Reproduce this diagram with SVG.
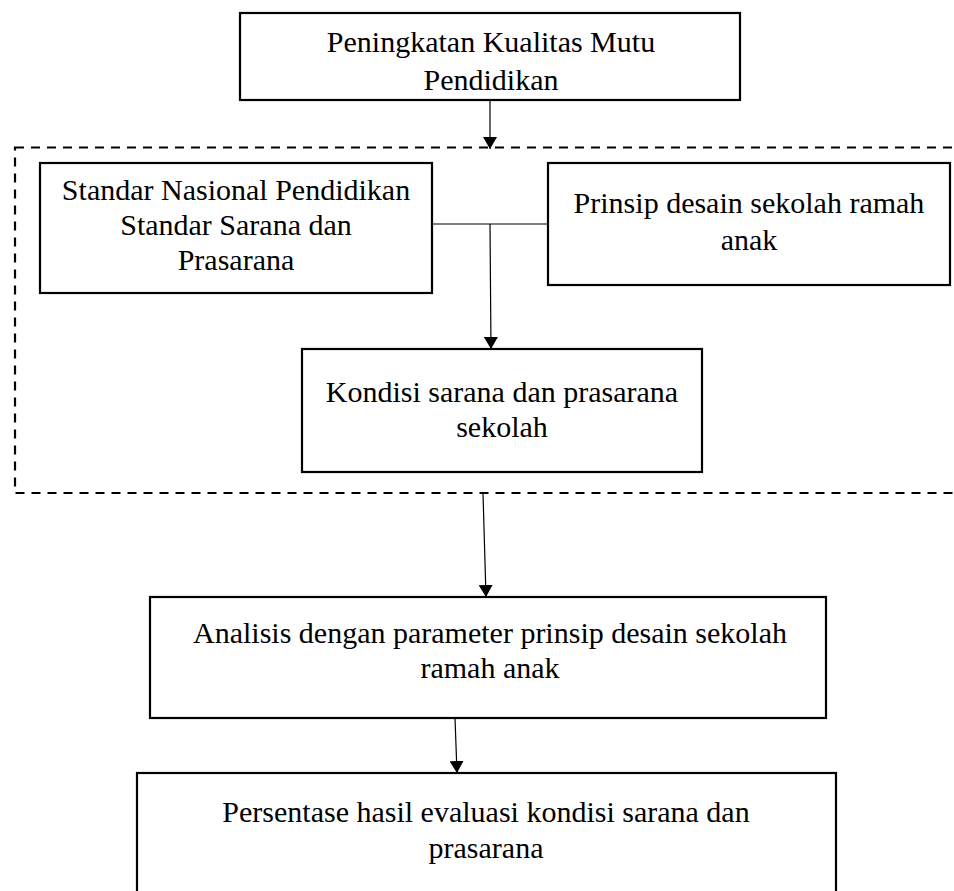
<svg xmlns="http://www.w3.org/2000/svg" width="954" height="891" viewBox="0 0 954 891">
<style>
.box{fill:#fff;stroke:#000;stroke-width:2.2}
.t{font-family:"Liberation Serif","Times New Roman",serif;font-size:30px;fill:#000;text-anchor:middle}
.c{fill:none;stroke:#000;stroke-width:1.2}
.dash{fill:none;stroke:#000;stroke-width:2.2;stroke-dasharray:9 7}
</style>
<defs>
<marker id="ah" markerWidth="12" markerHeight="14" refX="12" refY="7" orient="auto" markerUnits="userSpaceOnUse">
<path d="M0,0 L12,7 L0,14 Z" fill="#000"/>
</marker>
</defs>
<rect width="954" height="891" fill="#fff"/>
<g id="group-dashed">
<rect class="dash" x="15" y="147.5" width="960" height="345.5"/>
</g>
<g id="n-top">
<rect class="box" x="240" y="13" width="500" height="87"/>
<text class="t" x="491" y="52">Peningkatan Kualitas Mutu</text>
<text class="t" x="491" y="90">Pendidikan</text>
</g>
<g id="n-standar">
<rect class="box" x="40" y="163" width="392" height="130"/>
<text class="t" x="236" y="200">Standar Nasional Pendidikan</text>
<text class="t" x="236" y="235">Standar Sarana dan</text>
<text class="t" x="236" y="270">Prasarana</text>
</g>
<g id="n-prinsip">
<rect class="box" x="548" y="163" width="402" height="122"/>
<text class="t" x="749" y="213">Prinsip desain sekolah ramah</text>
<text class="t" x="749" y="250">anak</text>
</g>
<g id="n-kondisi">
<rect class="box" x="302" y="349" width="400" height="123"/>
<text class="t" x="502" y="402">Kondisi sarana dan prasarana</text>
<text class="t" x="502" y="437">sekolah</text>
</g>
<g id="n-analisis">
<rect class="box" x="150" y="597" width="676" height="121"/>
<text class="t" x="490" y="643">Analisis dengan parameter prinsip desain sekolah</text>
<text class="t" x="490" y="678">ramah anak</text>
</g>
<g id="n-persentase">
<rect class="box" x="137" y="773" width="699" height="140"/>
<text class="t" x="486" y="822">Persentase hasil evaluasi kondisi sarana dan</text>
<text class="t" x="486" y="858">prasarana</text>
</g>
<g id="connectors">
<line class="c" x1="490" y1="100" x2="490" y2="149" marker-end="url(#ah)"/>
<line class="c" x1="432" y1="224" x2="548" y2="224"/>
<line class="c" x1="490" y1="224" x2="491" y2="349" marker-end="url(#ah)"/>
<line class="c" x1="483" y1="493" x2="486" y2="597" marker-end="url(#ah)"/>
<line class="c" x1="455" y1="718" x2="457" y2="773" marker-end="url(#ah)"/>
</g>
</svg>
